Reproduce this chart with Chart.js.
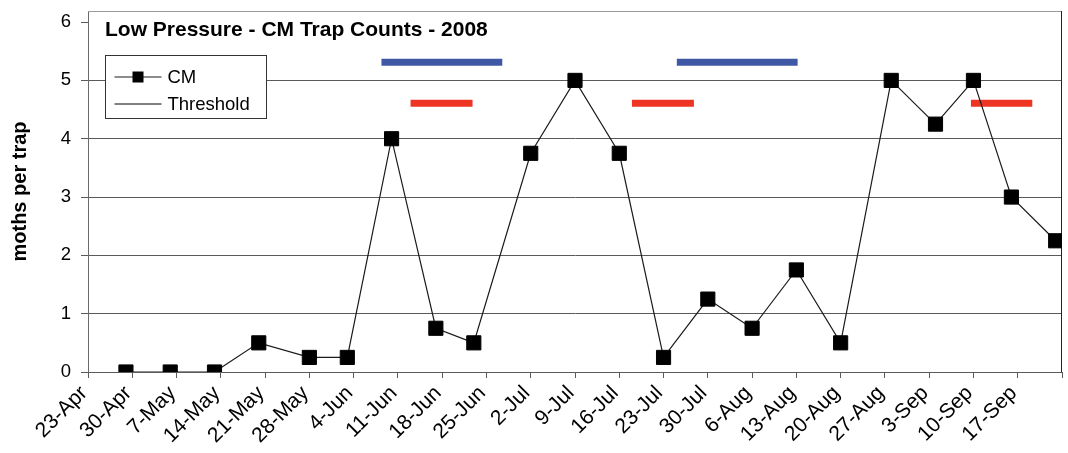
<!DOCTYPE html>
<html>
<head>
<meta charset="utf-8">
<title>Low Pressure - CM Trap Counts - 2008</title>
<script src="https://cdn.jsdelivr.net/npm/chart.js@4/dist/chart.umd.min.js"></script>
<style>
  html, body { margin: 0; padding: 0; background: #ffffff; }
  canvas { display: block; }
</style>
</head>
<body>
<canvas id="trapChart" width="1068" height="453"></canvas>
<script>
// ---- data -------------------------------------------------------------
const chartTitle = 'Low Pressure - CM Trap Counts - 2008';
const yAxisTitle = 'moths per trap';
const seasonYear = 2008;
const seasonStart = '23-Apr';

// trap check dates and codling moth counts (moths per trap)
const sampleDates = [
  '29-Apr', '6-May', '13-May', '20-May', '28-May', '3-Jun', '10-Jun', '17-Jun',
  '23-Jun', '2-Jul', '9-Jul', '16-Jul', '23-Jul', '30-Jul', '6-Aug', '13-Aug',
  '20-Aug', '28-Aug', '4-Sep', '10-Sep', '16-Sep', '23-Sep'
];
const cmCounts = [
  0, 0, 0, 0.5, 0.25, 0.25, 4, 0.75,
  0.5, 3.75, 5, 3.75, 0.25, 1.25, 0.75, 1.75,
  0.5, 5, 4.25, 5, 3, 2.25
];

// threshold series (no values entered for this block)
const thresholdValues = [];

// weekly axis labels
const weekTickLabels = [
  '23-Apr', '30-Apr', '7-May', '14-May', '21-May', '28-May', '4-Jun', '11-Jun',
  '18-Jun', '25-Jun', '2-Jul', '9-Jul', '16-Jul', '23-Jul', '30-Jul', '6-Aug',
  '13-Aug', '20-Aug', '27-Aug', '3-Sep', '10-Sep', '17-Sep'
];

// marker bars: [start, end] in days after the season start, and their level
const bluePeriods = [[46.4, 65.5], [93.1, 112.2]];
const blueLevel = 5.31;
const redPeriods = [[51.0, 60.8], [86.0, 95.8], [139.6, 149.3]];
const redLevel = 4.61;

// ---- helpers ----------------------------------------------------------
const MONTHS = ['Jan','Feb','Mar','Apr','May','Jun','Jul','Aug','Sep','Oct','Nov','Dec'];
function toUtc(label) {
  const [d, m] = label.split('-');
  return Date.UTC(seasonYear, MONTHS.indexOf(m), Number(d));
}
const startUtc = toUtc(seasonStart);
function dayOf(label) {
  return Math.round((toUtc(label) - startUtc) / 86400000);
}
const lastDay = weekTickLabels.length * 7;

const FONT = '"Liberation Sans", Arial, Helvetica, sans-serif';
const AXIS_COLOR = '#5a5a5a';

function spanDataset(span, level, colour) {
  return {
    label: '',
    data: [{ x: span[0], y: level }, { x: span[1], y: level }],
    borderColor: colour,
    borderWidth: 7,
    borderCapStyle: 'butt',
    pointRadius: 0,
    pointHoverRadius: 0,
    fill: false,
    order: 2
  };
}

// ---- plugins: plot frame, in-plot title, boxed legend -----------------
const plotFrame = {
  id: 'plotFrame',
  beforeDatasetsDraw(chart) {
    const { ctx, chartArea: a } = chart;
    ctx.save();
    ctx.lineWidth = 1;
    ctx.strokeStyle = '#9a9a9a';
    ctx.beginPath();
    ctx.moveTo(a.left, a.top + 0.5);
    ctx.lineTo(a.right, a.top + 0.5);
    ctx.stroke();
    ctx.strokeStyle = '#222222';
    ctx.beginPath();
    ctx.moveTo(a.right - 0.5, a.top);
    ctx.lineTo(a.right - 0.5, a.bottom);
    ctx.stroke();
    ctx.restore();
  }
};

const inPlotTitle = {
  id: 'inPlotTitle',
  afterDraw(chart) {
    const { ctx, chartArea: a } = chart;
    ctx.save();
    ctx.font = 'bold 21px ' + FONT;
    ctx.fillStyle = '#000000';
    ctx.textAlign = 'left';
    ctx.textBaseline = 'alphabetic';
    ctx.fillText(chartTitle, a.left + 17, a.top + 25);
    ctx.restore();
  }
};

const boxedLegend = {
  id: 'boxedLegend',
  afterDatasetsDraw(chart) {
    const { ctx, chartArea: a } = chart;
    const items = chart.data.datasets.filter(ds => ds.label === 'CM' || ds.label === 'Threshold');
    const x = a.left + 17.5, y = a.top + 44.5, w = 161, h = 63;
    ctx.save();
    ctx.fillStyle = '#ffffff';
    ctx.fillRect(x, y, w, h);
    ctx.strokeStyle = '#333333';
    ctx.lineWidth = 1;
    ctx.strokeRect(x, y, w, h);
    ctx.font = '18.5px ' + FONT;
    ctx.textBaseline = 'alphabetic';
    items.forEach((ds, i) => {
      const cy = y + 21 + i * 27;
      ctx.strokeStyle = ds.borderColor;
      ctx.lineWidth = 1;
      ctx.beginPath();
      ctx.moveTo(x + 9, cy + 0.5);
      ctx.lineTo(x + 56, cy + 0.5);
      ctx.stroke();
      if (ds.pointRadius > 0) {
        ctx.fillStyle = ds.pointBackgroundColor;
        ctx.fillRect(x + 27, cy - 5, 11, 11);
      }
      ctx.fillStyle = '#000000';
      ctx.fillText(ds.label, x + 62, cy + 6.5);
    });
    ctx.restore();
  }
};

// ---- chart ------------------------------------------------------------
Chart.defaults.font.family = FONT;
Chart.defaults.color = '#000000';

new Chart(document.getElementById('trapChart'), {
  type: 'line',
  data: {
    datasets: [
      {
        label: 'CM',
        data: sampleDates.map((d, i) => ({ x: dayOf(d), y: cmCounts[i] })),
        borderColor: '#1a1a1a',
        borderWidth: 1.2,
        pointStyle: 'rect',
        pointRadius: 10,
        pointBackgroundColor: '#000000',
        pointBorderColor: '#000000',
        pointBorderWidth: 1,
        tension: 0,
        fill: false,
        order: 0
      },
      {
        label: 'Threshold',
        data: thresholdValues,
        borderColor: '#000000',
        borderWidth: 1,
        pointRadius: 0,
        fill: false,
        order: 1
      },
      ...bluePeriods.map(s => spanDataset(s, blueLevel, '#3f58a6')),
      ...redPeriods.map(s => spanDataset(s, redLevel, '#ee3524'))
    ]
  },
  options: {
    responsive: false,
    devicePixelRatio: 1,
    animation: false,
    layout: {
      autoPadding: false,
      padding: { top: 11, right: 6, left: 0, bottom: 0 }
    },
    plugins: {
      legend: { display: false },
      title: { display: false },
      tooltip: { enabled: false }
    },
    scales: {
      x: {
        type: 'linear',
        min: 0,
        max: lastDay,
        afterFit(scale) {
          scale.height = 81;
          scale.paddingLeft = 0;
          scale.paddingRight = 0;
        },
        border: { display: true, color: AXIS_COLOR, width: 1 },
        grid: {
          drawOnChartArea: false,
          drawTicks: true,
          tickLength: 6,
          tickColor: AXIS_COLOR
        },
        ticks: {
          stepSize: 7,
          autoSkip: false,
          minRotation: 45,
          maxRotation: 45,
          padding: 3,
          labelOffset: -4,
          font: { size: 21 },
          color: '#000000',
          callback(value) {
            const idx = Math.round(value / 7);
            return weekTickLabels[idx] !== undefined ? weekTickLabels[idx] : '';
          }
        }
      },
      y: {
        type: 'linear',
        min: 0,
        max: 6.19,
        afterFit(scale) {
          scale.width = 88;
          scale.paddingTop = 0;
          scale.paddingBottom = 0;
        },
        border: { display: true, color: '#6a6a6a', width: 1 },
        grid: {
          drawTicks: true,
          tickLength: 7,
          tickColor: AXIS_COLOR,
          color(ctx) {
            return ctx.tick && ctx.tick.value === 6 ? 'rgba(0,0,0,0)' : AXIS_COLOR;
          },
          lineWidth: 1
        },
        ticks: {
          stepSize: 1,
          includeBounds: false,
          padding: 10,
          font: { size: 18.5 },
          color: '#000000'
        },
        title: {
          display: true,
          text: yAxisTitle,
          font: { size: 20, weight: 'bold' },
          color: '#000000',
          padding: { top: 8, bottom: 0 }
        }
      }
    }
  },
  plugins: [plotFrame, boxedLegend, inPlotTitle]
});
</script>
</body>
</html>
